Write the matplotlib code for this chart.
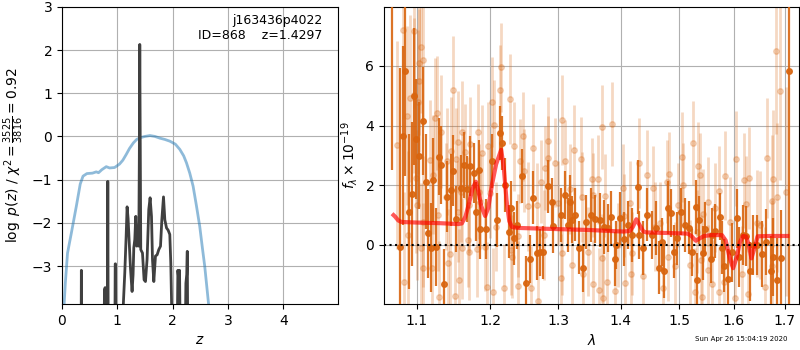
"""
Redshift fit figure: log p(z) / chi2 on the left, 1D spectrum with
best-fit model on the right.
"""

import numpy as np
import matplotlib
matplotlib.use("Agg")
import matplotlib.pyplot as plt
from matplotlib.ticker import NullLocator

# -- left panel: chi2 curve and p(z)
z_chi = [0.30, 0.345, 0.35, 0.357, 0.75, 0.77, 0.78, 0.79, 0.82, 0.828, 0.836,
         0.955, 0.962, 0.968, 0.975, 1.09, 1.11, 1.135, 1.16, 1.177, 1.195,
         1.213, 1.238, 1.267, 1.285, 1.298, 1.316, 1.334, 1.352, 1.370, 1.388,
         1.398, 1.406, 1.414, 1.424, 1.455, 1.484, 1.509, 1.538, 1.569, 1.593,
         1.618, 1.636, 1.660, 1.690, 1.720, 1.750, 1.781, 1.805, 1.835, 1.859,
         1.890, 1.919, 1.949, 1.967, 1.991, 2.08, 2.095, 2.11, 2.125, 2.14,
         2.225, 2.24, 2.255, 2.265, 2.275, 2.50]
logp_chi = [-5, -5, -3.1, -5, -5, -3.55, -3.5, -5, -5, -1.04, -5,
            -5, -2.95, -2.95, -5, -5, -3.85, -3.16, -2.3, -1.63, -1.9,
            -2.39, -3.05, -3.59, -3.2, -2.58, -2.39, -1.85, -2.54, -2.08, -2.54,
            -0.5, 2.13, 0.0, -2.62, -2.70, -3.32, -3.36, -2.85, -1.69, -1.42,
            -1.85, -2.85, -3.36, -2.77, -2.74, -2.62, -2.54, -1.93, -1.40, -1.93,
            -2.12, -2.17, -2.27, -2.93, -4.5, -5, -3.1, -3.3, -3.1, -5,
            -5, -3.4, -3.2, -2.66, -5, -5]

z_pz = [0.02, 0.06, 0.10, 0.17, 0.26, 0.33, 0.38, 0.45, 0.55, 0.62, 0.66, 0.72,
        0.80, 0.86, 0.95, 1.04, 1.10, 1.16, 1.22, 1.29, 1.35, 1.41, 1.50, 1.59,
        1.68, 1.77, 1.86, 1.95, 2.05, 2.13, 2.20, 2.25, 2.31, 2.37, 2.43, 2.49,
        2.54, 2.58, 2.65, 2.70]
logp_pz = [-4.3, -3.4, -2.7, -2.23, -1.61, -1.1, -0.92, -0.86, -0.85, -0.82,
           -0.84, -0.77, -0.70, -0.73, -0.72, -0.64, -0.55, -0.42, -0.28, -0.15,
           -0.07, -0.03, 0.0, 0.02, 0.0, -0.04, -0.07, -0.11, -0.18, -0.30,
           -0.45, -0.61, -0.85, -1.15, -1.6, -2.08, -2.6, -3.0, -3.88, -4.6]

# -- right panel: spectrum, first orient (dark)
lam_a = [1.068, 1.0786, 1.0816, 1.085, 1.0893, 1.0936, 1.0966, 1.0991, 1.1033,
         1.1073, 1.1117, 1.1151, 1.1183, 1.1217, 1.1254, 1.1297, 1.1320, 1.1364,
         1.1396, 1.1450, 1.1486, 1.1522, 1.1591, 1.1637, 1.1670, 1.1716, 1.1762,
         1.1796, 1.1832, 1.1855, 1.1940, 1.2020, 1.2100, 1.2139, 1.2163, 1.2211,
         1.2259, 1.2297, 1.2345, 1.2389, 1.2462, 1.2512, 1.2576, 1.2625, 1.2686,
         1.2726, 1.2767, 1.2852, 1.2903, 1.2918, 1.3045, 1.3107, 1.3149, 1.3185,
         1.3221, 1.3264, 1.3331, 1.3395, 1.3438, 1.3517, 1.3581, 1.3662, 1.3727,
         1.3787, 1.3842, 1.3907, 1.3924, 1.3989, 1.4061, 1.4128, 1.4195, 1.4296,
         1.4313, 1.4371, 1.4449, 1.4523, 1.4592, 1.4649, 1.4695, 1.4736, 1.4800,
         1.4858, 1.4915, 1.4968, 1.5035, 1.5106, 1.5178, 1.5238, 1.5305, 1.5318,
         1.5365, 1.5439, 1.5469, 1.5573, 1.5603, 1.5653, 1.5744, 1.5788, 1.5825,
         1.5900, 1.5963, 1.6059, 1.6108, 1.6185, 1.6231, 1.6313, 1.6377, 1.6443,
         1.6540, 1.6618, 1.6722, 1.6768, 1.6835, 1.6920, 1.7085]
flux_a = [8.9, -0.06, 3.66, 5.82, 1.12, 1.71, 4.98, 3.55, 2.99,
          4.16, 2.12, 0.39, -0.09, 2.17, -0.07, 2.96, 2.67, -1.32,
          1.62, 1.84, 2.49, 0.86, 1.90, 2.67, 1.87, 2.64, 2.42,
          1.12, 2.52, 0.52, 0.53, 2.82, 0.83, 3.76, 3.41, 2.01,
          0.45, 1.23, 0.22, 0.67, 2.31, -1.26, -0.48, 1.59, -0.28,
          -0.25, -0.25, 1.96, 1.43, 0.62, 1.00, 1.67, 0.67, 1.43,
          0.85, 1.02, -0.09, -0.78, 0.78, 1.00, 0.87, 0.83, 0.61,
          0.58, 0.92, -0.47, 0.00, 0.89, 0.19, 0.67, 0.34, 1.95,
          0.34, -0.11, 1.02, 0.34, 0.56, -0.76, 0.11, -0.89, 1.25,
          1.06, -0.22, 0.22, 1.12, 0.67, 0.58, -0.25, 1.26, -1.17,
          0.84, -0.28, 0.54, -0.47, 0.34, 0.47, 0.95, -0.09, -0.69,
          -1.14, -0.25, 0.89, -0.40, 0.34, 0.31, -0.89, 0.00, 0.00,
          -0.31, 0.09, -0.89, -0.40, -1.17, -0.43, 5.84]
err_a = [6.4, 6.0, 3.0, 3.5, 2.6, 2.4, 2.3, 2.0, 1.8,
         1.8, 1.6, 1.5, 1.5, 1.4, 1.3, 1.3, 1.3, 1.2,
         1.2, 1.2, 1.2, 1.1, 1.1, 1.1, 1.1, 1.0, 1.0,
         1.0, 1.0, 1.0, 1.0, 0.9, 0.9, 0.9, 0.9, 0.9,
         0.9, 0.9, 0.9, 0.8, 0.9, 0.9, 0.8, 0.9, 0.9,
         0.8, 0.9, 0.9, 0.8, 0.9, 0.9, 0.8, 0.9, 0.9,
         0.8, 0.9, 0.9, 0.8, 0.9, 0.9, 0.8, 0.9, 0.9,
         0.8, 0.9, 0.9, 0.8, 0.9, 0.9, 0.8, 0.9, 0.9,
         0.8, 0.9, 0.9, 0.8, 0.9, 0.9, 0.8, 0.9, 0.9,
         0.8, 0.9, 0.9, 0.8, 0.9, 0.9, 0.8, 0.9, 0.9,
         0.8, 0.9, 0.9, 0.8, 0.9, 0.9, 0.8, 0.9, 0.9,
         1.0, 1.0, 1.0, 1.0, 1.0, 1.0, 1.0, 1.0, 1.0,
         1.1, 1.1, 1.2, 1.3, 1.4, 1.6, 8.0]

# -- second orient (light)
lam_b = [1.0744, 1.0821, 1.0829, 1.0871, 1.0879, 1.0906, 1.0957, 1.0966, 1.0991,
         1.1000, 1.1008, 1.1021, 1.1033, 1.1052, 1.1056, 1.1078, 1.1085, 1.1086,
         1.1174, 1.1196, 1.1217, 1.1240, 1.1271, 1.1284, 1.1290, 1.1320, 1.1387,
         1.1396, 1.1418, 1.1441, 1.1450, 1.1486, 1.1509, 1.1522, 1.1545, 1.1554,
         1.1560, 1.1587, 1.1601, 1.1609, 1.1646, 1.1679, 1.1693, 1.1706, 1.1716,
         1.1809, 1.1818, 1.1832, 1.1855, 1.1880, 1.1925, 1.1950, 1.1959, 1.1996,
         1.2020, 1.2029, 1.2057, 1.2082, 1.2139, 1.2153, 1.2187, 1.2283, 1.2290,
         1.2307, 1.2345, 1.2394, 1.2404, 1.2428, 1.2477, 1.2485, 1.2546, 1.2591,
         1.2625, 1.2677, 1.2692, 1.2741, 1.2791, 1.2801, 1.2842, 1.2852, 1.2955,
         1.2998, 1.3045, 1.3056, 1.3065, 1.3107, 1.3185, 1.3221, 1.3253, 1.3353,
         1.3369, 1.3395, 1.3474, 1.3527, 1.3544, 1.3554, 1.3634, 1.3640, 1.3689,
         1.3699, 1.3716, 1.3743, 1.3771, 1.3860, 1.3907, 1.3951, 1.4034, 1.4061,
         1.4072, 1.4156, 1.4167, 1.4195, 1.4313, 1.4380, 1.4440, 1.4549, 1.4580,
         1.4667, 1.4725, 1.4794, 1.4810, 1.4822, 1.4926, 1.4985, 1.5047, 1.5077,
         1.5196, 1.5256, 1.5287, 1.5318, 1.5347, 1.5377, 1.5385, 1.5421, 1.5439,
         1.5524, 1.5530, 1.5603, 1.5653, 1.5719, 1.5725, 1.5825, 1.5838, 1.5932,
         1.6020, 1.6040, 1.6154, 1.6204, 1.6236, 1.6280, 1.6294, 1.6443, 1.6507,
         1.6604, 1.6638, 1.6736, 1.6748, 1.6768, 1.6821, 1.6835, 1.6902, 1.7014]
flux_b = [3.35, 7.21, -1.23, 4.33, 0.34, 4.92, 5.01, 7.18, 2.24,
          1.34, 4.79, 5.50, 6.10, -0.11, 6.63, 0.78, -0.78, 6.21,
          2.85, -0.78, 2.35, 4.25, 4.42, 1.01, -1.76, 3.80, 1.62,
          2.80, -0.61, -0.31, 3.16, 5.20, -1.70, 2.88, 3.46, 1.12,
          -1.17, 1.79, -0.11, 3.80, 3.13, 0.18, 1.34, -0.25, 3.37,
          -0.13, 3.80, 1.79, 1.45, 3.08, -0.06, -1.40, 3.30, 1.73,
          4.79, -1.59, 4.03, 0.61, 5.20, 5.95, -1.46, 4.89, -0.17,
          -0.39, 3.30, 0.31, -1.37, 2.82, 3.64, 2.49, 1.29, -1.43,
          3.24, 1.34, -1.87, 2.12, 0.34, 2.57, 3.47, 2.91, 2.76,
          1.40, -1.12, -0.28, 4.19, 2.80, 1.88, -0.67, 3.18, 2.89,
          1.60, -0.96, -0.22, 2.20, -1.32, 1.68, 2.20, -1.51, -0.45,
          3.95, -1.79, 1.65, -1.23, 4.06, -1.55, 0.00, 1.90, 0.98,
          -1.26, 1.40, -0.98, -0.28, 2.75, -1.03, 2.35, 1.90, 0.61,
          0.72, -1.46, 2.12, -0.39, 2.38, -0.72, 1.34, 2.94, 2.01,
          -0.67, 3.42, -1.59, 0.45, 2.63, 2.35, -0.50, -1.73, 1.03,
          1.45, -0.84, -1.32, 1.25, -1.57, 1.81, -1.23, 2.32, 0.78,
          -1.79, 2.89, -0.96, 2.16, 1.38, -1.66, 2.24, 0.72, 0.67,
          -1.40, 2.91, 1.48, -0.71, 2.22, 6.51, 1.60, 5.17, 1.79]
err_b = [3.5, 3.0, 3.0, 3.0, 2.8, 2.8, 2.6, 2.6, 2.5,
         2.5, 2.4, 2.4, 2.4, 2.2, 2.2, 2.2, 2.2, 2.2,
         2.0, 2.0, 2.0, 2.0, 1.9, 1.9, 1.9, 1.9, 1.8,
         1.8, 1.8, 1.8, 1.8, 1.8, 1.7, 1.7, 1.7, 1.7,
         1.7, 1.7, 1.7, 1.7, 1.6, 1.6, 1.6, 1.6, 1.6,
         1.6, 1.6, 1.6, 1.6, 1.6, 1.5, 1.5, 1.5, 1.5,
         1.5, 1.5, 1.5, 1.5, 1.5, 1.5, 1.5, 1.5, 1.5,
         1.4, 1.5, 1.4, 1.5, 1.4, 1.5, 1.4, 1.5, 1.4,
         1.5, 1.4, 1.5, 1.4, 1.5, 1.4, 1.5, 1.4, 1.5,
         1.4, 1.5, 1.4, 1.5, 1.4, 1.5, 1.4, 1.5, 1.4,
         1.5, 1.4, 1.5, 1.4, 1.5, 1.4, 1.5, 1.4, 1.5,
         1.4, 1.5, 1.4, 1.5, 1.4, 1.5, 1.4, 1.5, 1.4,
         1.5, 1.4, 1.5, 1.4, 1.5, 1.4, 1.5, 1.4, 1.5,
         1.4, 1.5, 1.4, 1.5, 1.4, 1.5, 1.4, 1.5, 1.4,
         1.5, 1.4, 1.5, 1.4, 1.5, 1.4, 1.5, 1.4, 1.5,
         1.5, 1.5, 1.5, 1.5, 1.5, 1.5, 1.5, 1.5, 1.5,
         1.6, 1.6, 1.6, 1.6, 1.6, 1.7, 1.7, 1.8, 1.8,
         2.0, 2.0, 2.2, 2.2, 2.3, 2.8, 2.5, 3.0, 3.5]

# -- best-fit model
lam_model = [1.070, 1.072, 1.076, 1.080, 1.100, 1.130, 1.155, 1.160, 1.165,
             1.170, 1.175, 1.1795, 1.183, 1.187, 1.1925, 1.197, 1.202, 1.208,
             1.2153, 1.219, 1.223, 1.227, 1.231, 1.240, 1.300, 1.350, 1.390,
             1.405, 1.415, 1.420, 1.426, 1.432, 1.438, 1.443, 1.480, 1.515,
             1.522, 1.530, 1.537, 1.545, 1.559, 1.578, 1.585, 1.592, 1.599,
             1.606, 1.612, 1.618, 1.624, 1.629, 1.634, 1.640, 1.646, 1.670,
             1.705]
flux_model = [1.00, 0.95, 0.82, 0.77, 0.75, 0.73, 0.70, 0.72, 0.95,
              1.40, 1.90, 2.12, 1.80, 1.30, 0.97, 1.25, 2.00, 2.70,
              3.19, 2.60, 1.50, 0.80, 0.60, 0.57, 0.53, 0.50, 0.46,
              0.45, 0.47, 0.60, 0.86, 0.65, 0.45, 0.42, 0.40, 0.38,
              0.30, 0.14, 0.22, 0.30, 0.33, 0.33, 0.15, -0.40, -0.78,
              -0.40, 0.10, 0.30, 0.28, 0.00, -0.45, -0.10, 0.29, 0.30,
              0.30]

lam_ticks = [1.1, 1.2, 1.3, 1.4, 1.5, 1.6, 1.7]

orange = '#d9650f'

fig = plt.figure(figsize=(8, 3.5), dpi=100)

# left: chi2 / p(z)
ax1 = fig.add_axes([0.0775, 0.1314, 0.345, 0.849])
ax1.plot(z_pz, logp_pz, color='#1f77b4', alpha=0.5, lw=2)
ax1.plot(z_chi, logp_chi, color='0.25', lw=2)
ax1.set_xlim(0, 4.99)
ax1.set_ylim(-3.88, 3.0)
ax1.set_xlabel('$z$')
ax1.set_ylabel(r'$\log\ p(z)$ / $\chi^2=\frac{3525}{3816}=0.92$')
ax1.text(0.945, 0.975, 'j163436p4022\nID=868    z=1.4297', ha='right', va='top',
         fontsize=9, transform=ax1.transAxes)
ax1.grid()

# right: spectrum
ax2 = fig.add_axes([0.48, 0.1314, 0.519, 0.849])
ax2.errorbar(lam_b, flux_b, yerr=err_b, fmt='o', color=orange, alpha=0.25,
             markersize=4, elinewidth=2, zorder=2)
ax2.errorbar(lam_a, flux_a, yerr=err_a, fmt='o', color=orange, alpha=0.9,
             markersize=4, elinewidth=1.6, zorder=3)
ax2.plot(lam_model, flux_model, color='r', alpha=0.65, lw=3, zorder=4)
ax2.axhline(0, color='k', linestyle=':', lw=1.5, zorder=5)
ax2.set_xscale('log')
ax2.set_xticks(lam_ticks)
ax2.set_xticklabels(['%.1f' % t for t in lam_ticks])
ax2.xaxis.set_minor_locator(NullLocator())
ax2.set_xlim(1.058, 1.729)
ax2.set_ylim(-1.98, 7.98)
ax2.set_xlabel(r'$\lambda$')
ax2.set_ylabel(r'$f_\lambda\times10^{-19}$')
ax2.grid()

fig.text(0.984, 0.03, 'Sun Apr 26 15:04:19 2020', ha='right', va='center',
         fontsize=5)

fig.savefig('out.png', dpi=100)
